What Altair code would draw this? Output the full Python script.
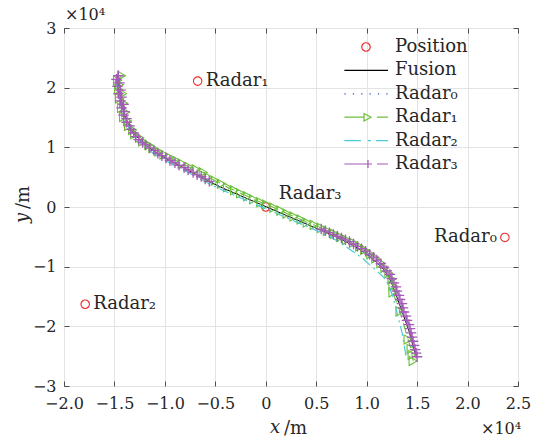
import altair as alt
import pandas as pd

W, H = 454, 358
FONT = "DejaVu Serif"
AXIS_GRAY = "#4d4d4d"
TEXT = "#262626"

# ---------------- data ----------------
series_names = ["Position", "Fusion", "Radar₀", "Radar₁", "Radar₂", "Radar₃"]
series_colors = ["#ee2b2b", "#000000", "#3e63c9", "#6bbf3a", "#4ccad8", "#a45bb6"]

radar_labels = ["Radar₀", "Radar₁", "Radar₂", "Radar₃"]
radar_x = [2.37, -0.675, -1.79, 0.0]
radar_y = [-0.51, 2.11, -1.63, 0.0]

fusion_x = [-1.47, -1.46, -1.44, -1.42, -1.40, -1.37, -1.33, -1.28, -1.21, -1.13,
            -1.04, -0.94, -0.84, -0.74, -0.64, -0.54, -0.43, -0.32, -0.21, -0.10,
            0.01, 0.12, 0.23, 0.34, 0.45, 0.56, 0.67, 0.78, 0.89, 0.99,
            1.08, 1.16, 1.22, 1.26, 1.30, 1.34, 1.38, 1.42, 1.45, 1.48]
fusion_y = [2.14, 2.00, 1.85, 1.70, 1.55, 1.42, 1.30, 1.18, 1.07, 0.96,
            0.86, 0.77, 0.68, 0.59, 0.50, 0.41, 0.32, 0.24, 0.16, 0.08,
            0.00, -0.08, -0.16, -0.24, -0.32, -0.40, -0.48, -0.57, -0.67, -0.78,
            -0.90, -1.03, -1.17, -1.33, -1.51, -1.70, -1.89, -2.08, -2.27, -2.45]

radar0_x = [-1.48, -1.45, -1.45, -1.41, -1.41, -1.36, -1.34, -1.27, -1.22, -1.12,
            -1.05, -0.93, -0.85, -0.73, -0.65, -0.53, -0.44, -0.31, -0.22, -0.09,
            0.00, 0.13, 0.22, 0.35, 0.44, 0.57, 0.66, 0.79, 0.88, 1.00,
            1.07, 1.17, 1.21, 1.27, 1.29, 1.35, 1.37, 1.43, 1.44, 1.49]
radar0_y = [2.16, 2.01, 1.84, 1.71, 1.54, 1.43, 1.29, 1.19, 1.06, 0.97,
            0.85, 0.78, 0.67, 0.60, 0.49, 0.42, 0.31, 0.25, 0.15, 0.09,
            -0.01, -0.07, -0.17, -0.23, -0.33, -0.39, -0.49, -0.56, -0.68, -0.77,
            -0.91, -1.02, -1.18, -1.32, -1.52, -1.69, -1.90, -2.07, -2.28, -2.44]

radar1_x = [-1.43, -1.47, -1.45, -1.46, -1.42, -1.45, -1.41, -1.43, -1.39, -1.41,
            -1.37, -1.36, -1.32, -1.30, -1.25, -1.22, -1.16, -1.12, -1.06, -1.01,
            -0.95, -0.89, -0.83, -0.76, -0.69, -0.62, -0.57, -0.50, -0.44, -0.38,
            -0.31, -0.25, -0.18, -0.12, -0.05, 0.01, 0.08, 0.15, 0.21, 0.28,
            0.35, 0.41, 0.48, 0.55, 0.61, 0.68, 0.74, 0.80, 0.87, 0.93,
            0.98, 1.04, 1.09, 1.14, 1.18, 1.22, 1.25, 1.26, 1.26, 1.33,
            1.41, 1.44, 1.45, 1.46]
radar1_y = [2.20, 2.12, 2.05, 1.97, 1.90, 1.82, 1.74, 1.66, 1.59, 1.51,
            1.44, 1.36, 1.29, 1.22, 1.16, 1.10, 1.04, 0.99, 0.93, 0.88,
            0.83, 0.78, 0.73, 0.67, 0.63, 0.58, 0.50, 0.44, 0.39, 0.33,
            0.28, 0.23, 0.18, 0.13, 0.08, 0.04, -0.01, -0.06, -0.11, -0.16,
            -0.21, -0.26, -0.30, -0.35, -0.40, -0.45, -0.50, -0.55, -0.60, -0.66,
            -0.72, -0.79, -0.86, -0.94, -1.02, -1.11, -1.21, -1.32, -1.43, -1.75,
            -2.22, -2.38, -2.48, -2.58]

radar2_x = [-1.48, -1.47, -1.45, -1.43, -1.41, -1.38, -1.34, -1.29, -1.22, -1.14,
            -1.05, -0.95, -0.85, -0.75, -0.65, -0.55, -0.44, -0.33, -0.22, -0.11,
            0.00, 0.11, 0.22, 0.33, 0.44, 0.55, 0.66, 0.76, 0.86, 0.96,
            1.03, 1.10, 1.17, 1.22, 1.26, 1.29, 1.32, 1.35, 1.37, 1.39]
radar2_y = [2.12, 1.98, 1.83, 1.68, 1.53, 1.40, 1.27, 1.15, 1.04, 0.93,
            0.83, 0.74, 0.65, 0.56, 0.47, 0.38, 0.29, 0.21, 0.13, 0.05,
            -0.03, -0.11, -0.19, -0.27, -0.35, -0.43, -0.52, -0.62, -0.74, -0.86,
            -0.97, -1.07, -1.18, -1.32, -1.50, -1.70, -1.90, -2.10, -2.30, -2.50]

radar3a_x = [-1.46, -1.48, -1.45, -1.47, -1.44, -1.46, -1.43, -1.44, -1.41, -1.43,
             -1.40, -1.41, -1.38, -1.38, -1.35, -1.34, -1.31, -1.29, -1.26, -1.22,
             -1.19, -1.15, -1.11, -1.07, -1.03, -0.99, -0.95, -0.90, -0.86, -0.81,
             -0.77, -0.72, -0.68, -0.64, -0.60, -0.56]
radar3a_y = [2.20, 2.14, 2.08, 2.02, 1.96, 1.90, 1.84, 1.78, 1.72, 1.66,
             1.60, 1.54, 1.48, 1.42, 1.36, 1.30, 1.24, 1.18, 1.13, 1.08,
             1.04, 0.99, 0.95, 0.90, 0.86, 0.82, 0.78, 0.74, 0.70, 0.66,
             0.62, 0.58, 0.54, 0.51, 0.47, 0.43]
radar3b_x = [0.55, 0.59, 0.63, 0.67, 0.71, 0.75, 0.79, 0.83, 0.87, 0.91,
             0.95, 0.99, 1.03, 1.07, 1.10, 1.14, 1.17, 1.20, 1.23, 1.25,
             1.27, 1.29, 1.30, 1.32, 1.33, 1.35, 1.36, 1.37, 1.39, 1.40,
             1.42, 1.43, 1.44, 1.45, 1.46, 1.47, 1.48, 1.49, 1.50]
radar3b_y = [-0.37, -0.40, -0.43, -0.46, -0.49, -0.52, -0.55, -0.58, -0.62, -0.66,
             -0.70, -0.74, -0.79, -0.84, -0.89, -0.95, -1.01, -1.07, -1.13, -1.20,
             -1.27, -1.34, -1.41, -1.48, -1.55, -1.62, -1.69, -1.76, -1.83, -1.90,
             -1.97, -2.04, -2.11, -2.18, -2.25, -2.32, -2.39, -2.45, -2.51]

x_limits = [-2.0, 2.5]
y_limits = [-3, 3]
x_ticks = [-2.0, -1.5, -1.0, -0.5, 0.0, 0.5, 1.0, 1.5, 2.0, 2.5]
y_ticks = [-3, -2, -1, 0, 1, 2, 3]
scale_text = ["×10⁴"]
x_title = ["x", "/m"]
y_title = ["y", "/m"]

# ---------------- styles ----------------
RED, BLACK, BLUE, GREEN, CYAN, PURPLE = series_colors
PLUS_PATH = "M-1,0L1,0M0,-1L0,1"
legend_paths = [
    "M0.47,0A0.47,0.47 0 1,1 -0.47,0A0.47,0.47 0 1,1 0.47,0Z",
    "M-2.4,0L2.44,0",
    "M-2.4,0L-2.25,0M-1.47,0L-1.32,0M-0.54,0L-0.39,0M0.39,0L0.54,0M1.32,0L1.47,0M2.25,0L2.4,0",
    "M-2.4,0L-0.22,0M-0.22,-0.42L0.56,0L-0.22,0.42Z M1.22,0L2.44,0",
    "M-2.4,0L-0.56,0M0.22,0L0.56,0M1.11,0L2.44,0",
    "M-2.4,0L0.67,0M0.22,-0.45L0.22,0.45M1.22,0L2.44,0",
]


def track_df(xs, ys, seg=0):
    return pd.DataFrame({"x": xs, "y": ys, "idx": list(range(len(xs))), "seg": [seg] * len(xs)})


xsc = alt.Scale(domain=x_limits, nice=False, zero=False)
ysc = alt.Scale(domain=y_limits, nice=False, zero=False)

main_x_axis = alt.Axis(orient="bottom", values=x_ticks,
                       labelExpr="datum.value == 0 ? '0' : format(datum.value, '.1f')",
                       labelOverlap=False, labelFlush=False,
                       grid=True, gridColor="#e3e3e3", gridWidth=1, ticks=False, domain=False,
                       labelFont=FONT, labelFontSize=16, labelColor=TEXT, labelPadding=9, title=None)
main_y_axis = alt.Axis(orient="left", values=y_ticks, format="d", labelOverlap=False, labelFlush=False,
                       grid=True, gridColor="#e3e3e3", gridWidth=1, ticks=False, domain=False,
                       labelFont=FONT, labelFontSize=16, labelColor=TEXT, labelPadding=8, title=None)


def tick_axis(orient, offset, values):
    return alt.Axis(orient=orient, offset=offset, values=values, labels=False, grid=False,
                    domain=False, ticks=True, tickSize=5, tickColor=AXIS_GRAY, tickWidth=1, title=None)


def enc(ax=None, ay=None):
    return dict(x=alt.X("x:Q", scale=xsc, axis=ax), y=alt.Y("y:Q", scale=ysc, axis=ay))


pos_df = pd.DataFrame({"x": radar_x, "y": radar_y, "label": radar_labels})

positions = alt.Chart(pos_df).mark_point(shape="circle", filled=False, size=72, color=RED,
                                         strokeWidth=1.1, opacity=1).encode(**enc(main_x_axis, main_y_axis))

fusion = alt.Chart(track_df(fusion_x, fusion_y)).mark_line(color=BLACK, strokeWidth=1).encode(
    **enc(tick_axis("top", -H, x_ticks), tick_axis("right", -W, y_ticks)), order="idx:Q")

r0 = alt.Chart(track_df(radar0_x, radar0_y)).mark_line(color=BLUE, strokeWidth=1.3, strokeDash=[1.5, 5.5]).encode(
    **enc(tick_axis("bottom", -H, x_ticks), tick_axis("left", -W, y_ticks)), order="idx:Q")

r1_df = track_df(radar1_x, radar1_y)
r1_line = alt.Chart(r1_df).mark_line(color=GREEN, strokeWidth=1.1, strokeDash=[10, 6]).encode(**enc(), order="idx:Q")
r1_pts = alt.Chart(r1_df).mark_point(shape="triangle-right", filled=False, size=85, color=GREEN,
                                     strokeWidth=1.1, opacity=1).encode(**enc())

r2 = alt.Chart(track_df(radar2_x, radar2_y)).mark_line(color=CYAN, strokeWidth=1.2, strokeDash=[10, 4, 2, 4]).encode(
    **enc(), order="idx:Q")

r3_df = pd.concat([track_df(radar3a_x, radar3a_y, 0), track_df(radar3b_x, radar3b_y, 1)], ignore_index=True)
r3_line = alt.Chart(r3_df).mark_line(color=PURPLE, strokeWidth=1.1, strokeDash=[10, 6]).encode(
    **enc(), order="idx:Q", detail="seg:N")
r3_pts = alt.Chart(r3_df).mark_point(shape=PLUS_PATH, filled=False, size=110, color=PURPLE,
                                     strokeWidth=1.3, opacity=1).encode(**enc())

lab_style = dict(font=FONT, fontSize=18, color=TEXT, baseline="middle")
lab_right = alt.Chart(pos_df).transform_filter(
    alt.FieldOneOfPredicate(field="label", oneOf=[radar_labels[1], radar_labels[2]])
).mark_text(align="left", dx=8, **lab_style).encode(**enc(), text="label:N")
lab_left = alt.Chart(pos_df).transform_filter(
    alt.FieldEqualPredicate(field="label", equal=radar_labels[0])
).mark_text(align="right", dx=-8, **lab_style).encode(**enc(), text="label:N")
lab_up = alt.Chart(pos_df).transform_filter(
    alt.FieldEqualPredicate(field="label", equal=radar_labels[3])
).mark_text(align="left", dx=13, dy=-13, **lab_style).encode(**enc(), text="label:N")

legend_cfg = alt.Legend(orient="none", legendX=292, legendY=9, title=None, labelFont=FONT,
                        labelFontSize=18, labelColor=TEXT, symbolSize=324, symbolStrokeWidth=1.2,
                        symbolOpacity=1, labelOffset=19, rowPadding=4.4, padding=0, labelLimit=300)
legend_df = pd.DataFrame({"series": series_names})
legend_layer = alt.Chart(legend_df).mark_point(filled=False, opacity=0, strokeWidth=1.2).encode(
    shape=alt.Shape("series:N", scale=alt.Scale(domain=series_names, range=legend_paths), legend=legend_cfg),
    color=alt.Color("series:N", scale=alt.Scale(domain=series_names, range=series_colors), legend=legend_cfg),
)

txt = dict(font=FONT, color=TEXT, baseline="middle")
sc_top = alt.Chart(pd.DataFrame({"t": scale_text})).mark_text(align="left", fontSize=16, **txt).encode(
    text="t:N", x=alt.value(1), y=alt.value(-13))
sc_bot = alt.Chart(pd.DataFrame({"t": scale_text})).mark_text(align="left", fontSize=16, **txt).encode(
    text="t:N", x=alt.value(417), y=alt.value(401))
xt1 = alt.Chart(pd.DataFrame({"t": [x_title[0]]})).mark_text(align="center", fontSize=18, fontStyle="italic", **txt).encode(
    text="t:N", x=alt.value(211), y=alt.value(400))
xt2 = alt.Chart(pd.DataFrame({"t": [x_title[1]]})).mark_text(align="left", fontSize=18, **txt).encode(
    text="t:N", x=alt.value(220), y=alt.value(401))
yt1 = alt.Chart(pd.DataFrame({"t": [y_title[0]]})).mark_text(align="center", angle=270, fontSize=18, fontStyle="italic", **txt).encode(
    text="t:N", x=alt.value(-41), y=alt.value(190))
yt2 = alt.Chart(pd.DataFrame({"t": [y_title[1]]})).mark_text(align="left", angle=270, fontSize=18, **txt).encode(
    text="t:N", x=alt.value(-40), y=alt.value(181))

chart = alt.layer(
    positions, fusion, r0, r1_line, r1_pts, r2, r3_line, r3_pts,
    lab_right, lab_left, lab_up, legend_layer, sc_top, sc_bot, xt1, xt2, yt1, yt2,
).resolve_axis(x="independent", y="independent").properties(
    width=W, height=H,
    padding={"left": 64, "top": 28, "right": 21, "bottom": 57},
    autosize=alt.AutoSizeParams(type="none"),
    background="white",
).configure_view(stroke=AXIS_GRAY, strokeWidth=1)

chart.save("out.html", embed_options={"renderer": "svg", "actions": False})
